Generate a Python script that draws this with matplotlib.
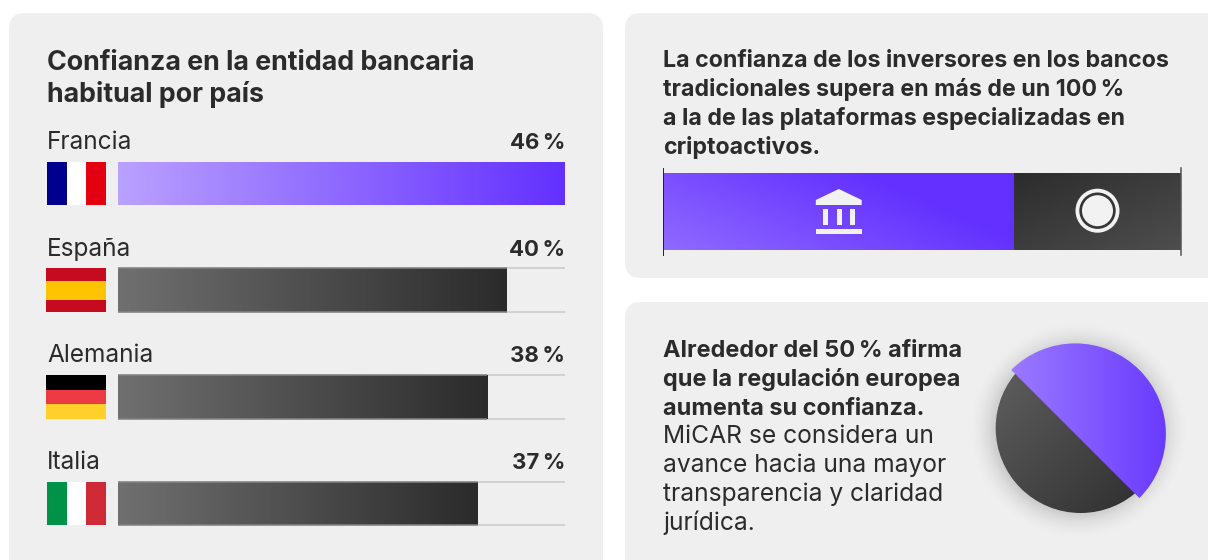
import numpy as np
import matplotlib
matplotlib.use('Agg')
import matplotlib.pyplot as plt
from matplotlib.patches import FancyBboxPatch, Rectangle, Polygon, Circle
from matplotlib.colors import LinearSegmentedColormap

# Data
countries = ['Francia', 'España', 'Alemania', 'Italia']
trust = [46, 40, 38, 37]
stack_shares = [67.8, 32.2]
regulation_shares = [50, 50]

title_lines = ['Confianza en la entidad bancaria', 'habitual por país']
top_lines = ['La confianza de los inversores en los bancos',
             'tradicionales supera en más de un 100\u202f%',
             'a la de las plataformas especializadas en',
             'criptoactivos.']
bottom_bold = ['Alrededor del 50\u202f% afirma',
               'que la regulación europea',
               'aumenta su confianza.']
bottom_normal = ['MiCAR se considera un',
                 'avance hacia una mayor',
                 'transparencia y claridad',
                 'jurídica.']

flags = {
    'Francia': ('v', ['#00008f', '#ffffff', '#e30011'], [1, 1, 1]),
    'España': ('h', ['#c60b1e', '#ffc400', '#c60b1e'], [1, 1.6, 1]),
    'Alemania': ('h', ['#000000', '#ee3a45', '#ffcf2a'], [1, 1, 1]),
    'Italia': ('v', ['#009246', '#ffffff', '#ce2b37'], [1, 1, 1]),
}

plt.rcParams['font.family'] = ['Inter', 'DejaVu Sans']
INK = '#2b2b2b'
CARD = '#efefef'
W, H = 1208, 560

purple_bar = LinearSegmentedColormap.from_list('pb', ['#b9a1ff', '#6330ff'])
dark_bar = LinearSegmentedColormap.from_list('db', ['#707070', '#2b2b2b'])
purple_diag = LinearSegmentedColormap.from_list('pd', [(0, '#8f6aff'), (0.72, '#6330ff'), (1, '#6330ff')])
dark_diag = LinearSegmentedColormap.from_list('dd', ['#2c2c2c', '#4e4e4e'])
purple_pie = LinearSegmentedColormap.from_list('pp', ['#a384ff', '#693aff'])
dark_pie = LinearSegmentedColormap.from_list('dp', ['#636363', '#2b2b2b'])


def px_axes(x0, y0, x1, y1):
    ax = fig.add_axes([x0 / W, 1 - y1 / H, (x1 - x0) / W, (y1 - y0) / H])
    ax.axis('off')
    return ax


def gradient(ax, extent, cmap, patch, diag=None):
    if diag is None:
        g = np.linspace(0, 1, 256).reshape(1, -1)
    else:
        gx, gy = np.meshgrid(np.linspace(0, 1, 256), np.linspace(0, 1, 256))
        g = (gx * diag[0] + gy * diag[1]) / (diag[0] + diag[1])
    im = ax.imshow(g, extent=extent, cmap=cmap, aspect='auto', origin='lower',
                   vmin=0, vmax=1, zorder=patch.get_zorder())
    im.set_clip_path(patch)
    patch.set_facecolor('none')
    return im


fig = plt.figure(figsize=(W / 100, H / 100), dpi=100, facecolor='white')
bg = px_axes(0, 0, W, H)
bg.set_xlim(0, W)
bg.set_ylim(H, 0)

# Cards
for x, y, w, h in [(9, 13, 594, 600), (625, 13, 620, 265), (625, 302, 620, 300)]:
    bg.add_patch(FancyBboxPatch((x + 16, y + 16), w - 32, h - 32,
                                boxstyle='round,pad=16,rounding_size=16',
                                fc=CARD, ec='none'))

# Titles and texts
for i, line in enumerate(title_lines):
    bg.text(47, 70 + i * 32, line, fontsize=19.3, fontweight='bold', color=INK)
for i, line in enumerate(top_lines):
    bg.text(663, 67 + i * 29, line, fontsize=16.7, fontweight='bold', color=INK)
for i, line in enumerate(bottom_bold):
    bg.text(663, 357 + i * 29, line, fontsize=16.9, fontweight='bold', color=INK)
for i, line in enumerate(bottom_normal):
    bg.text(663, 443 + i * 29, line, fontsize=17.7, color=INK)

# Country bars
row = 106.67
top, bottom = 130, 530
ax = px_axes(118, top, 565, bottom)
ax.set_xlim(0, max(trust))
ylim = ((bottom - 183.5) / row, (top - 183.5) / row)
ax.set_ylim(*ylim)
bar_h = 43.5 / row
for i, (name, val) in enumerate(zip(countries, trust)):
    bar = ax.barh(i, val, height=bar_h, color='none', zorder=2)[0]
    cmap = purple_bar if i == 0 else dark_bar
    gradient(ax, (0, val, i + bar_h / 2, i - bar_h / 2), cmap, bar)
    if i > 0:
        for edge in (i - bar_h / 2, i + bar_h / 2):
            ax.plot([0, max(trust)], [edge, edge], color='#c8c8c8', lw=1.1, zorder=1,
                    solid_capstyle='butt')
            ax.plot([0, val], [edge, edge], color='#858585', lw=1.1, zorder=3,
                    solid_capstyle='butt')
    ax.set_xlim(0, max(trust))
    ax.set_ylim(*ylim)

    cy = 183.5 + i * row
    bg.text(47, cy - 34.5, name, fontsize=17.6, color=INK)
    bg.text(565, cy - 34.5, f'{val}\u202f%', fontsize=16, fontweight='bold', color=INK, ha='right')
    # flag
    kind, cols, parts = flags[name]
    pos = 0.0
    for c, p in zip(cols, parts):
        frac = p / sum(parts)
        if kind == 'v':
            bg.add_patch(Rectangle((47 + pos * 59, cy - 21.75), frac * 59, 43.5, fc=c, ec='none'))
        else:
            bg.add_patch(Rectangle((46, cy - 21.75 + pos * 43.5), 60, frac * 43.5, fc=c, ec='none'))
        pos += frac

# Stacked bar
st = px_axes(663, 168, 1181, 255)
st.set_xlim(0, sum(stack_shares))
st.set_ylim(-43.5, 43.5)
b = st.barh(0, stack_shares[0], height=77, color='none', zorder=2)[0]
gradient(st, (0, stack_shares[0], -38.5, 38.5), purple_diag, b, diag=(1, 0.5))
b = st.barh(0, stack_shares[1], left=stack_shares[0], height=77, color='none', zorder=2)[0]
gradient(st, (stack_shares[0], sum(stack_shares), 38.5, -38.5), dark_diag, b, diag=(1, 1))
st.set_xlim(0, sum(stack_shares))
st.set_ylim(-43.5, 43.5)

# Ticks and icons sit above the stacked bar
over = px_axes(0, 0, W, H)
over.set_xlim(0, W)
over.set_ylim(H, 0)
over.plot([663, 663], [168, 255], color='#222222', lw=0.7)
over.plot([1180.6, 1180.6], [168, 255], color='#555555', lw=1.1)

ICON = '#f2f2f2'
over.add_patch(Polygon([(838.8, 189), (861.7, 200), (861.7, 205), (815.8, 205), (815.8, 200)],
                       fc=ICON, ec='none'))
for cx in (825.5, 839, 852.5):
    over.add_patch(Rectangle((cx - 2.5, 209.3), 5, 15.7, fc=ICON, ec='none'))
over.add_patch(Rectangle((815.8, 228.7), 45.9, 5.3, fc=ICON, ec='none'))
over.add_patch(Circle((1097.5, 210.7), 22, fc=ICON, ec='none', zorder=6))
over.add_patch(Circle((1097.5, 210.7), 18.2, fc='#363636', ec='none', zorder=7))
over.add_patch(Circle((1097.5, 210.7), 15.5, fc=ICON, ec='none', zorder=8))

# Pie
pie = px_axes(960, 320, 1200, 540)
pie.set_xlim(960, 1200)
pie.set_ylim(540, 320)
yy, xx = np.mgrid[320:540:440j, 960:1200:480j]
dist = np.hypot(xx - 1078, yy - 430)
shadow = np.clip((112 - dist) / 30, 0, 1) ** 2 * 0.16
rgba = np.zeros(dist.shape + (4,))
rgba[..., 3] = shadow
pie.imshow(rgba, extent=(960, 1200, 540, 320), aspect='auto', zorder=1)

pie2 = px_axes(960, 320, 1200, 540)
dark_wedges, _ = pie2.pie(regulation_shares, center=(1080.7, -428), radius=85,
                          startangle=135, counterclock=True, frame=True,
                          colors=['none', 'none'])
purple_wedges, _ = pie2.pie(regulation_shares, center=(1075.3, -434), radius=90.6,
                            startangle=-45, counterclock=True, frame=True,
                            colors=['none', 'none'])
pie2.set_aspect('auto')
pie2.axis('off')
w = dark_wedges[0]
w.set_zorder(2)
# the colour ramp runs top-left to bottom-right
gradient(pie2, (995, 1166, -343, -514), dark_pie, w, diag=(1, 1))
w2 = purple_wedges[0]
w2.set_zorder(3)
gradient(pie2, (985, 1166, -525, -343), purple_pie, w2)
pie2.set_xlim(960, 1200)
pie2.set_ylim(-540, -320)

fig.savefig('out.png', dpi=100, facecolor='white')
